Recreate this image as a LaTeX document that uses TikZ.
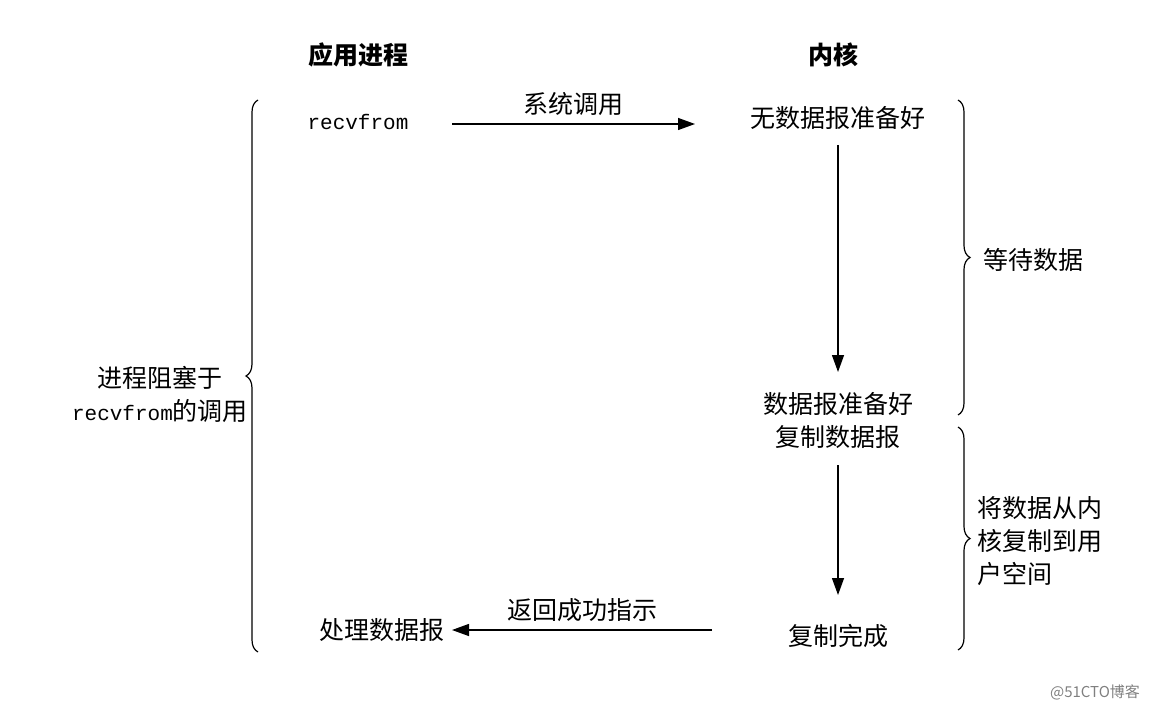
\documentclass[tikz,border=0pt]{standalone}
\usepackage{fontspec}
\newfontfamily\cjk{Noto Sans CJK SC}
\setmonofont{Liberation Mono}
\usetikzlibrary{decorations.pathreplacing,arrows.meta}
\begin{document}
\begin{tikzpicture}[x=1pt,y=-1pt,
  t/.style={font=\cjk\fontsize{25}{33}\selectfont},
  tb/.style={font=\cjk\bfseries\fontsize{25}{30}\selectfont},
  arr/.style={-{Triangle[length=17pt,width=12pt]},line width=1.3pt},
  br/.style={decorate,decoration={brace,amplitude=12pt},line width=1.2pt}]
\useasboundingbox (0,0) rectangle (1158,711);
\node[tb] (h1) at (358,55) {应用进程};
\node[tb] (h2) at (833,55) {内核};
\node[font=\ttfamily\fontsize{21}{25}\selectfont] (rf) at (358,122) {recvfrom};
\node[t] (n1) at (838,118) {无数据报准备好};
\node[t,align=center] (n2) at (838,420) {数据报准备好\\复制数据报};
\node[t] (n3) at (838,636) {复制完成};
\node[t] (p) at (382,630) {处理数据报};
\coordinate (a1) at (452,124); \coordinate (a2) at (695,124);
\draw[arr] (a1) -- node[t,above=4pt] (l1) {系统调用} (a2);
\coordinate (b1) at (712,630); \coordinate (b2) at (452,630);
\draw[arr] (b1) -- node[t,above=4pt] (l2) {返回成功指示} (b2);
\draw[arr] (838,145) coordinate (c1) -- (838,372) coordinate (c2);
\draw[arr] (838,465) coordinate (d1) -- (838,595) coordinate (d2);
\draw[br] (258,652) -- (258,100);
\draw[br] (958,100) -- (958,415);
\draw[br] (958,427) -- (958,650);
\node[t,align=center] (lb) at (160,394) {进程阻塞于\\{\ttfamily\fontsize{21}{25}\selectfont recvfrom}的调用};
\node[t] (w1) at (1033,260) {等待数据};
\node[t,align=left] (w2) at (1040,541) {将数据从内\\核复制到用\\户空间};
\node[font=\cjk\fontsize{15}{17}\selectfont,text=gray] (wm) at (1095,692) {@51CTO博客};
\end{tikzpicture}
\end{document}
